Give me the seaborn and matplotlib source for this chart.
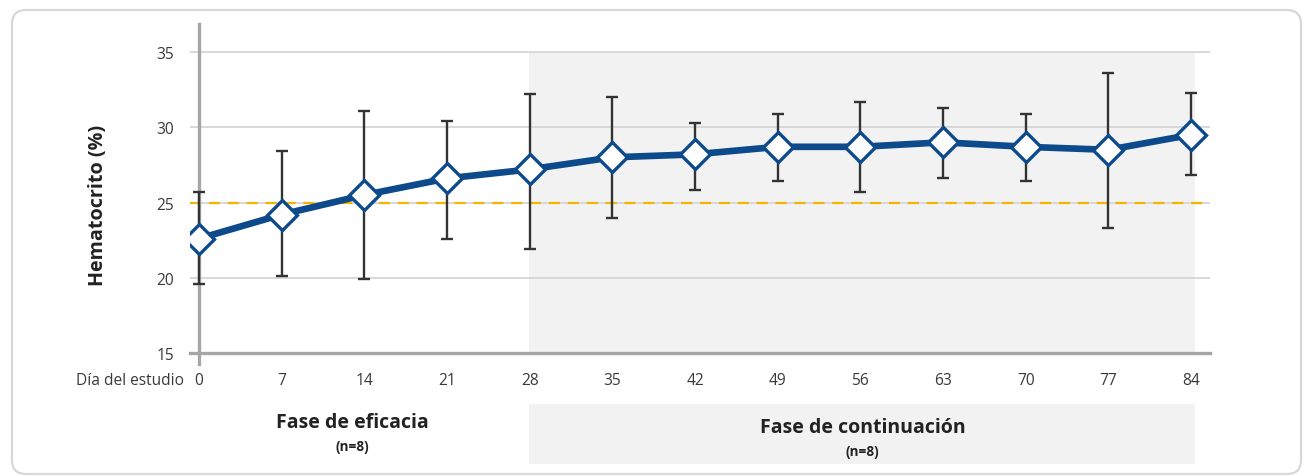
import matplotlib
matplotlib.use("Agg")
import matplotlib.pyplot as plt
import matplotlib.transforms as mtransforms
from matplotlib.patches import FancyBboxPatch, Rectangle
import pandas as pd
import seaborn as sns

# Hematocrit over the study (mean with range whiskers)
days = [0, 7, 14, 21, 28, 35, 42, 49, 56, 63, 70, 77, 84]
hct_mean = [22.6, 24.2, 25.5, 26.6, 27.2, 28.0, 28.2, 28.7, 28.7, 29.0, 28.7, 28.5, 29.5]
hct_upper = [25.7, 28.4, 31.1, 30.4, 32.2, 32.0, 30.3, 30.9, 31.7, 31.3, 30.9, 33.6, 32.3]
hct_lower = [19.6, 20.1, 19.9, 22.6, 21.9, 24.0, 25.8, 26.4, 25.7, 26.6, 26.4, 23.3, 26.8]
target_hct = 25
y_ticks = [15, 20, 25, 30, 35]

phase_names = ["Fase de eficacia", "Fase de continuación"]
phase_n = ["(n=8)", "(n=8)"]
continuation_start, continuation_end = 28, 84

BLUE = "#0c4a8b"
WHISKER = "#333333"
GOLD = "#f4b400"
SHADE = "#f2f2f2"
GRID = "#d6d6d6"
SPINE = "#a6a6a6"
TEXT = "#3a3a3a"

sns.set_style("white")
plt.rcParams["font.family"] = ["Open Sans", "DejaVu Sans"]

df = pd.DataFrame({"day": days, "mean": hct_mean,
                   "upper": hct_upper, "lower": hct_lower})

Y_MIN, Y_MAX = 14.27, 36.86

fig = plt.figure(figsize=(13.06, 4.77), dpi=100)
ax = fig.add_axes([190 / 1306, 1 - 365 / 477, 1020 / 1306, 340 / 477])

# continuation-phase background (between the 15 and 35 levels)
ax.axvspan(continuation_start - 0.1, continuation_end + 0.3,
           ymin=(15 - Y_MIN) / (Y_MAX - Y_MIN), ymax=(35 - Y_MIN) / (Y_MAX - Y_MIN),
           color=SHADE, lw=0, zorder=0)

ax.set_axisbelow(True)
ax.grid(axis="y", color=GRID, lw=1.3)
ax.grid(axis="x", visible=False)

# target line
ax.axhline(target_hct, color=GOLD, lw=1.6, dashes=(5, 3.5), zorder=1)

# whiskers
ax.errorbar(df["day"], df["mean"],
            yerr=[df["mean"] - df["lower"], df["upper"] - df["mean"]],
            fmt="none", ecolor=WHISKER, elinewidth=1.7, capsize=4, capthick=1.7, zorder=2)

# mean line with diamond markers
sns.lineplot(data=df, x="day", y="mean", ax=ax, color=BLUE, lw=4.8,
             marker="D", markersize=15, markerfacecolor="white",
             markeredgecolor=BLUE, markeredgewidth=2.4, zorder=3)

ax.set_xlim(-0.76, 85.6)
ax.set_ylim(Y_MIN, Y_MAX)
ax.set_xticks(days)
ax.set_yticks(y_ticks)

for s in ["top", "right"]:
    ax.spines[s].set_visible(False)
ax.spines["left"].set_position(("data", 0))
ax.spines["bottom"].set_position(("data", 15))
for s in ["left", "bottom"]:
    ax.spines[s].set_color(SPINE)
    ax.spines[s].set_linewidth(2.4)
    ax.spines[s].set_zorder(1.5)

ax.tick_params(axis="x", length=0, pad=14, labelsize=11.2, labelcolor=TEXT)
ax.tick_params(axis="y", length=0, pad=18, labelsize=11.2, labelcolor=TEXT)

ax.set_xlabel("")
ax.set_ylabel("Hematocrito (%)", fontsize=14.2, fontweight="bold", color="#222222")
ax.yaxis.set_label_coords(-0.080, 0.468)

ax.annotate("Día del estudio", xy=(0, 15), xycoords="data",
            xytext=(-11, -19.5), textcoords="offset points",
            ha="right", va="center", fontsize=11.2, color=TEXT)

# phase labels below the axis
blend = mtransforms.blended_transform_factory(ax.transData, fig.transFigure)
ax.add_patch(Rectangle((continuation_start - 0.1, 0.025), continuation_end + 0.4 - continuation_start,
                       0.126, transform=blend, color=SHADE, lw=0, clip_on=False, zorder=0))
label_x = [13, 56.2]
label_y = [(1 - 423 / 477, 1 - 447 / 477), (1 - 428 / 477, 1 - 452 / 477)]
for name, n, x, (y1, y2) in zip(phase_names, phase_n, label_x, label_y):
    ax.text(x, y1, name, transform=blend, ha="center", va="center",
            fontsize=14, fontweight="bold", color="#222222")
    ax.text(x, y2, n, transform=blend, ha="center", va="center",
            fontsize=9.8, fontweight="bold", color="#222222")

# rounded card border
card = FancyBboxPatch((12, 2), 1289, 464, boxstyle="round,pad=0,rounding_size=14",
                      transform=mtransforms.IdentityTransform(),
                      facecolor="none", edgecolor="#d8d8d8", lw=1.6)
fig.add_artist(card)

fig.savefig("out.png", dpi=100)
